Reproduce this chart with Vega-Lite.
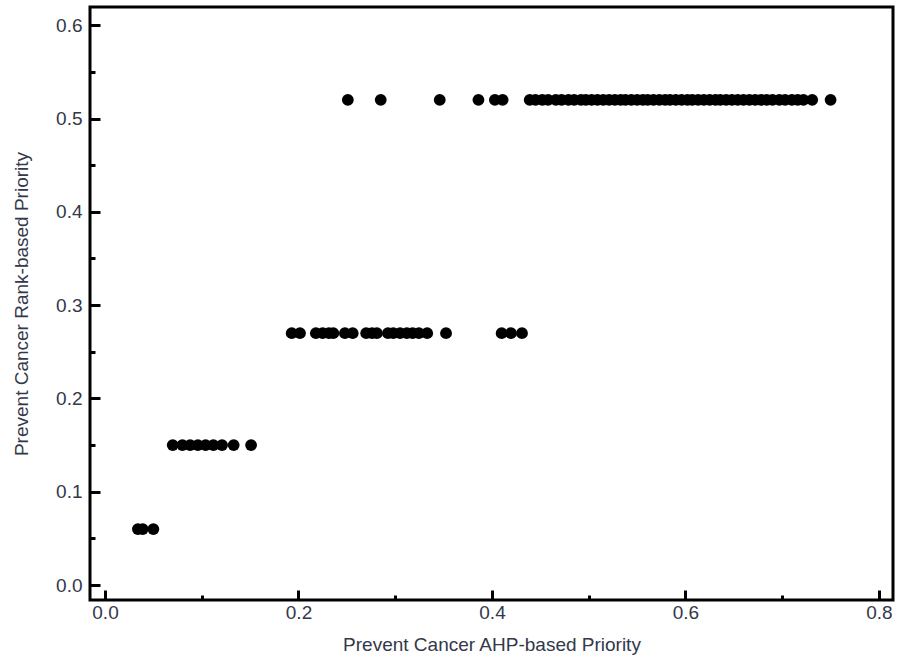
{
  "$schema": "https://vega.github.io/schema/vega-lite/v6.json",
  "autosize": "none",
  "width": 803,
  "height": 593,
  "padding": {"left": 90, "top": 7, "right": 4, "bottom": 64},
  "background": "white",
  "config": {
    "view": {"stroke": "black", "strokeWidth": 3},
    "axis": {
      "labelFont": "Liberation Sans",
      "titleFont": "Liberation Sans",
      "labelFontSize": 19,
      "titleFontSize": 19,
      "titleFontWeight": "normal",
      "labelColor": "#33384a",
      "titleColor": "#33384a",
      "domain": false,
      "grid": false,
      "tickColor": "black",
      "tickWidth": 3
    }
  },
  "data": {
    "values": [
      {"ahp": 0.034, "rank": 0.06}, {"ahp": 0.039, "rank": 0.06}, {"ahp": 0.050, "rank": 0.06},
      {"ahp": 0.070, "rank": 0.15}, {"ahp": 0.080, "rank": 0.15}, {"ahp": 0.088, "rank": 0.15}, {"ahp": 0.096, "rank": 0.15},
      {"ahp": 0.104, "rank": 0.15}, {"ahp": 0.112, "rank": 0.15}, {"ahp": 0.121, "rank": 0.15}, {"ahp": 0.133, "rank": 0.15},
      {"ahp": 0.151, "rank": 0.15},
      {"ahp": 0.193, "rank": 0.27}, {"ahp": 0.2015, "rank": 0.27}, {"ahp": 0.218, "rank": 0.27}, {"ahp": 0.225, "rank": 0.27},
      {"ahp": 0.2315, "rank": 0.27}, {"ahp": 0.236, "rank": 0.27}, {"ahp": 0.248, "rank": 0.27}, {"ahp": 0.256, "rank": 0.27},
      {"ahp": 0.270, "rank": 0.27}, {"ahp": 0.276, "rank": 0.27}, {"ahp": 0.281, "rank": 0.27}, {"ahp": 0.2925, "rank": 0.27},
      {"ahp": 0.298, "rank": 0.27}, {"ahp": 0.305, "rank": 0.27}, {"ahp": 0.312, "rank": 0.27}, {"ahp": 0.318, "rank": 0.27},
      {"ahp": 0.3245, "rank": 0.27}, {"ahp": 0.333, "rank": 0.27}, {"ahp": 0.3525, "rank": 0.27},
      {"ahp": 0.410, "rank": 0.27}, {"ahp": 0.4196, "rank": 0.27}, {"ahp": 0.431, "rank": 0.27},
      {"ahp": 0.251, "rank": 0.52}, {"ahp": 0.285, "rank": 0.52}, {"ahp": 0.346, "rank": 0.52}, {"ahp": 0.386, "rank": 0.52},
      {"ahp": 0.403, "rank": 0.52}, {"ahp": 0.411, "rank": 0.52},
      {"ahp": 0.439, "rank": 0.52}, {"ahp": 0.445, "rank": 0.52}, {"ahp": 0.452, "rank": 0.52}, {"ahp": 0.458, "rank": 0.52},
      {"ahp": 0.466, "rank": 0.52}, {"ahp": 0.472, "rank": 0.52}, {"ahp": 0.479, "rank": 0.52}, {"ahp": 0.485, "rank": 0.52},
      {"ahp": 0.492, "rank": 0.52}, {"ahp": 0.497, "rank": 0.52}, {"ahp": 0.503, "rank": 0.52}, {"ahp": 0.509, "rank": 0.52},
      {"ahp": 0.515, "rank": 0.52}, {"ahp": 0.521, "rank": 0.52}, {"ahp": 0.527, "rank": 0.52}, {"ahp": 0.533, "rank": 0.52},
      {"ahp": 0.538, "rank": 0.52}, {"ahp": 0.544, "rank": 0.52}, {"ahp": 0.550, "rank": 0.52}, {"ahp": 0.556, "rank": 0.52},
      {"ahp": 0.561, "rank": 0.52}, {"ahp": 0.567, "rank": 0.52}, {"ahp": 0.573, "rank": 0.52}, {"ahp": 0.579, "rank": 0.52},
      {"ahp": 0.584, "rank": 0.52}, {"ahp": 0.590, "rank": 0.52}, {"ahp": 0.596, "rank": 0.52}, {"ahp": 0.602, "rank": 0.52},
      {"ahp": 0.607, "rank": 0.52}, {"ahp": 0.613, "rank": 0.52}, {"ahp": 0.619, "rank": 0.52}, {"ahp": 0.625, "rank": 0.52},
      {"ahp": 0.631, "rank": 0.52}, {"ahp": 0.636, "rank": 0.52}, {"ahp": 0.642, "rank": 0.52}, {"ahp": 0.648, "rank": 0.52},
      {"ahp": 0.654, "rank": 0.52}, {"ahp": 0.660, "rank": 0.52}, {"ahp": 0.666, "rank": 0.52}, {"ahp": 0.672, "rank": 0.52},
      {"ahp": 0.678, "rank": 0.52}, {"ahp": 0.684, "rank": 0.52}, {"ahp": 0.690, "rank": 0.52}, {"ahp": 0.697, "rank": 0.52},
      {"ahp": 0.703, "rank": 0.52}, {"ahp": 0.710, "rank": 0.52}, {"ahp": 0.716, "rank": 0.52}, {"ahp": 0.722, "rank": 0.52},
      {"ahp": 0.731, "rank": 0.52}, {"ahp": 0.750, "rank": 0.52}
    ]
  },
  "mark": {"type": "point", "filled": true, "shape": "circle", "size": 140, "color": "black", "opacity": 1},
  "encoding": {
    "x": {
      "field": "ahp",
      "type": "quantitative",
      "title": "Prevent Cancer AHP-based Priority",
      "scale": {"domain": [-0.0155, 0.8145], "nice": false, "zero": false},
      "axis": {
        "values": [0, 0.1, 0.2, 0.3, 0.4, 0.5, 0.6, 0.7, 0.8],
        "format": ".1f",
        "labelExpr": "round(datum.value*10) % 2 === 0 ? datum.label : ''",
        "tickSize": {"condition": {"test": "round(datum.value*10) % 2 === 0", "value": -10}, "value": -5},
        "labelPadding": 13,
        "titlePadding": 13
      }
    },
    "y": {
      "field": "rank",
      "type": "quantitative",
      "title": "Prevent Cancer Rank-based Priority",
      "scale": {"domain": [-0.016, 0.6195], "nice": false, "zero": false},
      "axis": {
        "values": [0, 0.05, 0.1, 0.15, 0.2, 0.25, 0.3, 0.35, 0.4, 0.45, 0.5, 0.55, 0.6],
        "format": ".1f",
        "labelExpr": "round(datum.value*20) % 2 === 0 ? datum.label : ''",
        "tickSize": {"condition": {"test": "round(datum.value*20) % 2 === 0", "value": -10}, "value": -5},
        "labelPadding": 18,
        "titlePadding": 24
      }
    }
  }
}
